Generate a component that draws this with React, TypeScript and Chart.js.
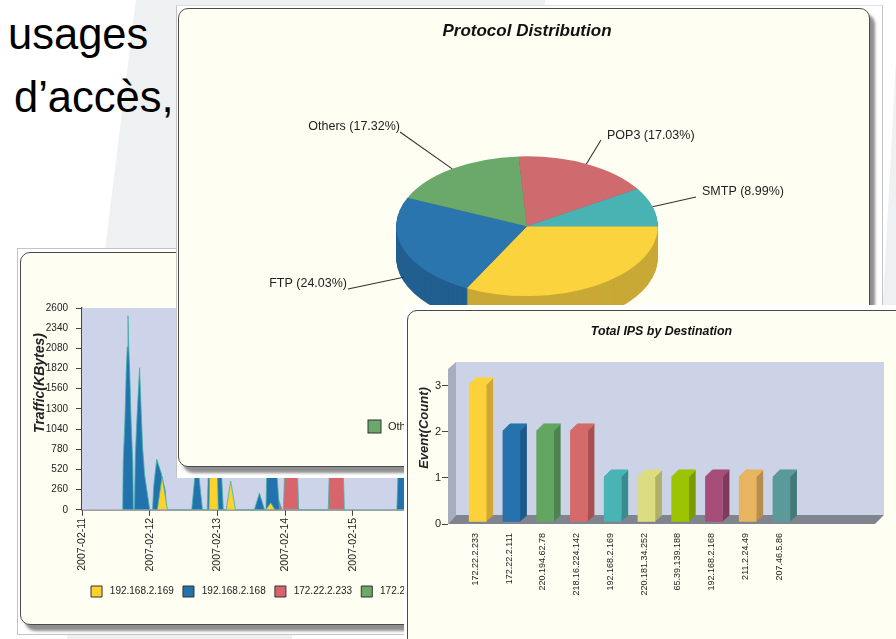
import React, { useEffect, useRef } from "react";
import { Chart, registerables } from "chart.js";

Chart.register(...registerables);

const FONT = '"Liberation Sans", Arial, sans-serif';
const INK = "#222";
const AXIS = "#444";

// ---- traffic chart data ----
const dayLabels = ["2007-02-11", "2007-02-12", "2007-02-13", "2007-02-14", "2007-02-15", "2007-02-16", "2007-02-17"];
const trafficTicksMax = 2600;
const series169Hours = [26.7, 28.4, 30.3, 45, 45.4, 47.8, 48.3, 51.1, 52.7, 54.4, 65.1, 66.9, 68.4];
const series169Kb = [0, 430, 0, 0, 800, 800, 0, 0, 370, 0, 0, 90, 0];
const series168Hours = [14.4, 14.6, 15.2, 15.7, 16.05, 16.3, 16.55, 16.9, 17.4, 18, 18.2, 18.6, 18.9, 19.5, 20.4, 21, 21.5, 22.2, 24, 25, 25.4, 26.5, 28, 29.5, 30, 38.9, 40.7, 42.7, 44.4, 45, 49, 50.1, 61.1, 62.9, 64.7, 65.2, 65.7, 68.4, 70, 111.6, 112.3, 119, 120];
const series168Kb = [0, 600, 1150, 1800, 2100, 2500, 2100, 1800, 1150, 600, 0, 0, 700, 1200, 1830, 1250, 800, 450, 0, 0, 300, 650, 480, 250, 0, 0, 700, 0, 0, 800, 800, 0, 0, 215, 0, 0, 800, 800, 0, 0, 800, 800, 0];
const series233Hours = [66, 67.5, 71, 71.4, 72.1, 76.1, 76.8, 87.3, 87.9, 92.4, 93];
const series233Kb = [0, 330, 0, 0, 800, 800, 0, 0, 800, 800, 0];
const series111Hours = [0, 151];
const series111Kb = [0, 0];
const trafficNames = ["192.168.2.169", "192.168.2.168", "172.22.2.233", "172.22.2.111"];

// ---- pie data ----
const pieNames = ["HTTP", "FTP", "Others", "POP3", "SMTP"];
const pieShares = [32.63, 24.03, 17.32, 17.03, 8.99];
const pieTop = ["#fbd33d", "#2a75ae", "#6aa96a", "#cf6b6f", "#49b2b3"];
const pieSide = ["#c9a936", "#215f90", "#4f8150", "#a05255", "#37898a"];
const pieLabelAt: (number[] | null)[] = [null, [347, 284, 348, 289], [400, 127, 400, 132], [607, 136, 601, 140], [702, 192, 696, 197]];

// ---- bar data ----
const ipNames = ["172.22.2.233", "172.22.2.111", "220.194.62.78", "218.16.224.142", "192.168.2.169", "220.181.34.252", "65.39.139.188", "192.168.2.168", "211.2.24.49", "207.46.5.86"];
const ipEvents = [3, 2, 2, 2, 1, 1, 1, 1, 1, 1];
const ipColors = ["#fcd13a", "#2672ad", "#62a662", "#d46a6a", "#48b4b4", "#dcdc82", "#9cc400", "#a64d79", "#e8b460", "#5a9a9a"];
const ipSides = ["#d2a632", "#1d5988", "#4c8350", "#a85050", "#378d8d", "#b0b068", "#7a9a00", "#7f3a5c", "#b88d4b", "#457878"];

const zip = (xs: number[], ys: number[]) => xs.map((x, i) => ({ x, y: ys[i] }));

const axisTitlePlugin = {
  id: "axisTitleText",
  afterDraw(chart: any, _a: any, o: any) {
    if (!o.text) return;
    const c = chart.ctx;
    c.save();
    c.translate(o.x, o.y);
    c.rotate(-Math.PI / 2);
    c.font = o.font;
    c.fillStyle = INK;
    c.textAlign = "center";
    c.textBaseline = "middle";
    c.fillText(o.text, 0, 0);
    c.restore();
  },
};

const plotBgPlugin = {
  id: "plotBg",
  beforeDatasetsDraw(chart: any, _a: any, o: any) {
    if (!o.color) return;
    const { left, top, width, height } = chart.chartArea;
    chart.ctx.fillStyle = o.color;
    chart.ctx.fillRect(left, top, width, height);
  },
};

const pie3dPlugin = {
  id: "pie3d",
  beforeDatasetDraw(chart: any, _a: any, o: any) {
    const c = chart.ctx;
    const arcs = chart.getDatasetMeta(0).data;
    const { x: cx, y: cy } = arcs[0];
    c.save();
    for (let d = o.depth; d >= 1; d -= 1) {
      arcs.forEach((a: any, i: number) => {
        c.save();
        c.translate(cx, cy + d);
        c.scale(1, o.squash);
        c.beginPath();
        c.moveTo(0, 0);
        c.arc(0, 0, a.outerRadius, a.startAngle, a.endAngle);
        c.closePath();
        c.fillStyle = pieSide[i];
        c.fill();
        c.restore();
      });
    }
    c.restore();
    c.save();
    c.translate(cx, cy);
    c.scale(1, o.squash);
    c.translate(-cx, -cy);
  },
  afterDatasetDraw(chart: any, _a: any, o: any) {
    const c = chart.ctx;
    c.restore();
    const arcs = chart.getDatasetMeta(0).data;
    c.save();
    c.font = `12.5px ${FONT}`;
    c.fillStyle = INK;
    c.textBaseline = "middle";
    arcs.forEach((a: any, i: number) => {
      const at = pieLabelAt[i];
      if (!at) return;
      const mid = (a.startAngle + a.endAngle) / 2;
      const sx = a.x + a.outerRadius * Math.cos(mid);
      const front = Math.sin(mid) > 0 ? o.leaderDrop : 0;
      const sy = a.y + a.outerRadius * o.squash * Math.sin(mid) + front;
      const text = `${pieNames[i]} (${pieShares[i].toFixed(2)}%)`;
      const { left, top } = o.origin;
      c.strokeStyle = "#333";
      c.lineWidth = 1.1;
      c.beginPath();
      c.moveTo(sx, sy);
      c.lineTo(at[2] - left, at[3] - top);
      c.stroke();
      c.textAlign = i === 1 || i === 2 ? "right" : "left";
      c.fillText(text, at[0] - left, at[1] - top);
    });
    // legend entry still visible beside the bar panel
    const k = pieNames.indexOf("Others");
    const lx = 368 - o.origin.left;
    const ly = 420 - o.origin.top;
    c.fillStyle = pieTop[k];
    c.strokeStyle = "#333";
    c.lineWidth = 1;
    c.fillRect(lx, ly, 13, 13);
    c.strokeRect(lx, ly, 13, 13);
    c.fillStyle = INK;
    c.font = `11px ${FONT}`;
    c.textAlign = "left";
    c.fillText(pieNames[k], lx + 20, ly + 7);
    c.restore();
  },
};

const bar3dPlugin = {
  id: "bar3d",
  beforeDatasetsDraw(chart: any) {
    const c = chart.ctx;
    const { left: L, right: R, top: T, bottom: B } = chart.chartArea;
    const poly = (pts: number[][], fill: string) => {
      c.beginPath();
      pts.forEach((p, i) => (i ? c.lineTo(p[0], p[1]) : c.moveTo(p[0], p[1])));
      c.closePath();
      c.fillStyle = fill;
      c.fill();
    };
    poly([[L + 8, T - 7], [R + 9, T - 7], [R + 9, B - 9], [L + 8, B - 9]], "#cdd3e6");
    poly([[L, T], [L + 8, T - 7], [L + 8, B - 9], [L, B]], "#a7aec0");
    poly([[L, B], [L + 8, B - 9], [R + 9, B - 9], [R, B]], "#80848f");
  },
  beforeDatasetDraw(chart: any, _a: any, o: any) {
    const c = chart.ctx;
    c.save();
    c.translate(o.shiftX, o.shiftY);
    const bars = chart.getDatasetMeta(0).data;
    bars.forEach((b: any, i: number) => {
      const x0 = b.x - b.width / 2;
      const x1 = b.x + b.width / 2;
      const dx = 7;
      const dy = 6;
      c.fillStyle = ipSides[i];
      c.beginPath();
      c.moveTo(x1, b.y);
      c.lineTo(x1 + dx, b.y - dy);
      c.lineTo(x1 + dx, b.base - dy);
      c.lineTo(x1, b.base);
      c.closePath();
      c.fill();
      c.fillStyle = ipColors[i];
      c.lineJoin = "round";
      c.strokeStyle = ipColors[i];
      c.lineWidth = 1;
      c.beginPath();
      c.moveTo(x0, b.y + 1);
      c.lineTo(x0 + dx, b.y - dy);
      c.lineTo(x1 + dx, b.y - dy);
      c.lineTo(x1, b.y + 1);
      c.closePath();
      c.fill();
      c.stroke();
    });
  },
  afterDatasetDraw(chart: any) {
    chart.ctx.restore();
  },
};

const trafficConfig: any = {
  type: "line",
  data: {
    datasets: [
      { label: trafficNames[0], data: zip(series169Hours, series169Kb), backgroundColor: "#fcd22f" },
      { label: trafficNames[1], data: zip(series168Hours, series168Kb), backgroundColor: "#2273ad" },
      { label: trafficNames[2], data: zip(series233Hours, series233Kb), backgroundColor: "#d8646c" },
      { label: trafficNames[3], data: zip(series111Hours, series111Kb), backgroundColor: "#6aa96a", borderWidth: 0 },
    ].map((d) => ({ borderColor: "#45b3a8", borderWidth: 0.8, pointRadius: 0, fill: "origin", tension: 0, ...d })),
  },
  options: {
    animation: false,
    responsive: false,
    devicePixelRatio: 1,
    layout: { padding: { top: 56, right: 17, bottom: 21 } },
    plugins: {
      tooltip: { enabled: false },
      plotBg: { color: "#cdd3e8" },
      axisTitleText: { text: "Traffic(KBytes)", x: 20, y: 131, font: `italic bold 14px ${FONT}` },
      legend: {
        position: "bottom",
        labels: {
          boxWidth: 11,
          boxHeight: 11,
          padding: 9.2,
          color: INK,
          font: { family: FONT, size: 10 },
          generateLabels: (chart: any) =>
            Chart.defaults.plugins.legend.labels.generateLabels(chart).map((l: any) => ({
              ...l,
              text: " " + l.text,
              strokeStyle: "#333",
              lineWidth: 1,
            })),
        },
      },
    },
    scales: {
      x: {
        type: "linear",
        min: 0,
        max: 151,
        afterFit: (s: any) => { s.height = 67; },
        grid: { drawOnChartArea: false, tickColor: AXIS, tickLength: 6 },
        border: { color: AXIS, width: 1.4 },
        ticks: {
          stepSize: 24,
          includeBounds: false,
          autoSkip: false,
          minRotation: 90,
          maxRotation: 90,
          padding: 2,
          color: INK,
          font: { family: FONT, size: 10.5 },
          callback: (v: number) => dayLabels[Math.round(v / 24)] ?? "",
        },
      },
      y: {
        min: 0,
        max: trafficTicksMax,
        afterFit: (s: any) => { s.width = 62; },
        grid: {
          tickLength: 6,
          tickColor: AXIS,
          color: (ctx: any) => (ctx.tick && ctx.tick.value === trafficTicksMax ? AXIS : "transparent"),
        },
        border: { color: AXIS, width: 1.4 },
        ticks: { stepSize: 260, padding: 8, color: INK, font: { family: FONT, size: 10 }, callback: (v: number) => String(v) },
      },
    },
  },
  plugins: [plotBgPlugin, axisTitlePlugin],
};

const pieConfig: any = {
  type: "pie",
  data: {
    labels: pieNames,
    datasets: [{ data: pieShares, backgroundColor: pieTop, borderWidth: 0, clip: false }],
  },
  options: {
    animation: false,
    responsive: false,
    devicePixelRatio: 1,
    rotation: 90,
    layout: { padding: { left: 218, right: 212, top: 0, bottom: 110 } },
    plugins: {
      legend: { display: false },
      tooltip: { enabled: false },
      title: {
        display: true,
        text: "Protocol Distribution",
        color: "#111",
        font: { family: FONT, size: 17, weight: "bold", style: "italic" },
        padding: { top: 13, bottom: 54 },
      },
      pie3d: { depth: 32, squash: 70 / 131, leaderDrop: 28, origin: { left: 178, top: 8 } },
    },
  },
  plugins: [pie3dPlugin],
};

const barConfig: any = {
  type: "bar",
  data: {
    datasets: [
      {
        data: zip(ipEvents.map((_, i) => i), ipEvents),
        backgroundColor: ipColors,
        barThickness: 17,
        borderRadius: { topLeft: 3, topRight: 3 },
        borderSkipped: "bottom",
        clip: false,
      },
    ],
  },
  options: {
    animation: false,
    responsive: false,
    devicePixelRatio: 1,
    layout: { padding: { right: 21 } },
    plugins: {
      legend: { display: false },
      tooltip: { enabled: false },
      title: {
        display: true,
        fullSize: false,
        text: "Total IPS by Destination",
        color: "#111",
        font: { family: FONT, size: 12.4, weight: "bold", style: "italic" },
        padding: { top: 14, bottom: 30 },
      },
      axisTitleText: { text: "Event(Count)", x: 17, y: 118, font: `italic bold 13px ${FONT}` },
      bar3d: { shiftX: 2.3, shiftY: -2 },
    },
    scales: {
      x: {
        type: "linear",
        offset: false,
        min: -0.81,
        max: 11.84,
        afterFit: (s: any) => { s.height = 115; },
        grid: { display: false, offset: false },
        border: { display: false },
        ticks: {
          stepSize: 1,
          includeBounds: false,
          autoSkip: false,
          minRotation: 90,
          maxRotation: 90,
          padding: 1,
          color: INK,
          font: { family: FONT, size: 9 },
          callback: (v: number) => ipNames[Math.round(v)] ?? "",
        },
      },
      y: {
        min: 0,
        max: 3.37,
        afterFit: (s: any) => { s.width = 41; },
        grid: { drawOnChartArea: false, tickLength: 6, tickColor: AXIS },
        border: { display: false },
        ticks: { stepSize: 1, includeBounds: false, padding: 1, color: INK, font: { family: FONT, size: 11 } },
      },
    },
  },
  plugins: [bar3dPlugin, axisTitlePlugin],
};

function ChartLayer({ left, top, width, height, config }: any) {
  const ref = useRef<HTMLCanvasElement>(null);
  useEffect(() => {
    const chart = new Chart(ref.current as HTMLCanvasElement, config);
    return () => chart.destroy();
  }, [config]);
  return <canvas ref={ref} width={width} height={height} style={{ position: "absolute", left, top, width, height }} />;
}

const box = (left: number, top: number, width: number, height: number, extra: any = {}): any => ({
  position: "absolute", left, top, width, height, boxSizing: "border-box", ...extra,
});

const cardStyle = (left: number, top: number, width: number, height: number, shadow = true): any =>
  box(left, top, width, height, {
    background: "#fefef3",
    border: "1.5px solid #4a4a4a",
    borderRadius: 10,
    boxShadow: shadow ? "5px 6px 3px #8f8f8f" : "none",
  });

const bigText = (left: number, top: number): any => ({
  position: "absolute", left, top, font: `43.5px/43.5px ${FONT}`, color: "#000", whiteSpace: "nowrap",
});

export default function App() {
  return (
    <div style={{ position: "fixed", left: 0, top: 0, width: 896, height: 639, overflow: "hidden", background: "#fff" }}>
      <div style={box(0, 0, 896, 639, { background: "#eff0f2", clipPath: "polygon(136px 0, 545px 0, 545px 250px, 105px 250px)" })} />
      <div style={box(0, 0, 896, 639, { background: "#eff0f2", clipPath: "polygon(896px 60px, 896px 320px, 882px 320px)" })} />
      <div style={box(67, 635, 225, 4, { background: "#eff0f2" })} />
      <div style={bigText(8, 13)}>usages</div>
      <div style={bigText(14, 76)}>d’accès,</div>

      <div style={box(17, 248, 390, 387, { background: "#fff", border: "1px solid #c4c4c4" })} />
      <div style={cardStyle(20, 252, 470, 373)} />
      <ChartLayer left={20} top={252} width={505} height={376} config={trafficConfig} />

      <div style={box(176, 5, 707, 473, { background: "#fff", borderLeft: "1px solid #c4c4c4", borderTop: "1px solid #ddd", borderRight: "1px solid #c4c4c4" })} />
      <div style={cardStyle(178, 8, 692, 459)} />
      <ChartLayer left={178} top={8} width={692} height={459} config={pieConfig} />

      <div style={box(404, 305, 492, 334, { background: "#fff" })} />
      <div style={cardStyle(407, 310, 520, 360, false)} />
      <ChartLayer left={407} top={310} width={489} height={329} config={barConfig} />
    </div>
  );
}
